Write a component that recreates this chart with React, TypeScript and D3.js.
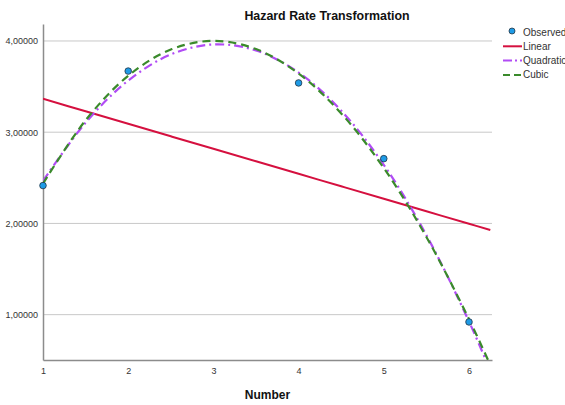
import React, { useEffect, useRef } from "react";
import * as d3 from "d3";

// observed points
const obsX = [1, 2, 4, 5, 6];
const obsY = [2.415, 3.67, 3.54, 2.71, 0.92];

// fitted curves
const fitX = [1, 1.5, 2, 2.5, 3, 3.5, 4, 4.5, 5, 5.5, 6, 6.25];
const linearY = [3.366, 3.229, 3.092, 2.955, 2.818, 2.681, 2.544, 2.407, 2.27, 2.133, 1.996, 1.928];
const quadY = [2.466, 3.104, 3.566, 3.852, 3.962, 3.896, 3.654, 3.236, 2.642, 1.872, 0.925, 0.386];
const cubicY = [2.436, 3.131, 3.618, 3.906, 4.001, 3.911, 3.643, 3.206, 2.607, 1.852, 0.951, 0.447];

const xTicks = [1, 2, 3, 4, 5, 6];
const yTicks = [1, 2, 3, 4];
const legendKeys = ["Observed", "Linear", "Quadratic", "Cubic"];

const App = () => {
    const svgRef = useRef(null);
    const width = 565;
    const height = 405;
    const margin = { top: 24, right: 73, bottom: 45, left: 43 };

    useEffect(() => {
        const svgEl = d3.select(svgRef.current);
        svgEl.selectAll("*").remove();

        const innerW = width - margin.left - margin.right;
        const innerH = height - margin.top - margin.bottom;

        const xScale = d3.scaleLinear().domain([1, 6.27]).range([0, innerW]);
        const yScale = d3.scaleLinear().domain([0.503, 4.186]).range([innerH, 0]);

        const svg = svgEl
            .append("g")
            .attr("transform", `translate(${margin.left},${margin.top})`);

        svg.append("defs")
            .append("clipPath")
            .attr("id", "clip")
            .append("rect")
            .attr("width", innerW)
            .attr("height", innerH);

        // gridlines
        svg.selectAll(".grid")
            .data(yTicks)
            .enter()
            .append("line")
            .attr("x1", 0)
            .attr("x2", innerW)
            .attr("y1", (d) => yScale(d))
            .attr("y2", (d) => yScale(d))
            .attr("stroke", "#c8c8c8")
            .attr("stroke-width", 1);

        // axes
        const xAxis = svg.append("g")
            .attr("transform", `translate(0,${innerH})`)
            .call(d3.axisBottom(xScale).tickValues(xTicks).tickSize(0).tickPadding(8).tickFormat(d3.format("d")));
        const yAxis = svg.append("g")
            .call(d3.axisLeft(yScale).tickValues(yTicks).tickSize(0).tickPadding(5)
                .tickFormat((d) => d3.format(".5f")(d).replace(".", ",")));

        [xAxis, yAxis].forEach((ax) => {
            ax.select(".domain").attr("stroke", "#8c8c8c").attr("stroke-width", 1.5);
            ax.selectAll("text")
                .attr("fill", "#333")
                .style("font-family", "Liberation Sans, Arial, sans-serif")
                .style("font-size", "9px");
        });

        const line = (ys) =>
            d3.line()
                .x((d, i) => xScale(fitX[i]))
                .y((d) => yScale(d))
                .curve(d3.curveCatmullRom)(ys);

        const plot = svg.append("g").attr("clip-path", "url(#clip)");

        plot.append("path")
            .attr("d", line(linearY))
            .attr("fill", "none")
            .attr("stroke", "#d5103f")
            .attr("stroke-width", 2);

        plot.append("path")
            .attr("d", line(quadY))
            .attr("fill", "none")
            .attr("stroke", "#b14cf5")
            .attr("stroke-width", 2.2)
            .attr("stroke-dasharray", "9,4,2,4");

        plot.append("path")
            .attr("d", line(cubicY))
            .attr("fill", "none")
            .attr("stroke", "#3a8a2b")
            .attr("stroke-width", 2.2)
            .attr("stroke-dasharray", "8,5");

        svg.selectAll(".obs")
            .data(obsX)
            .enter()
            .append("circle")
            .attr("cx", (d) => xScale(d))
            .attr("cy", (d, i) => yScale(obsY[i]))
            .attr("r", 3.3)
            .attr("fill", "#1e9be6")
            .attr("stroke", "#234")
            .attr("stroke-width", 0.8);

        // title
        svgEl.append("text")
            .attr("x", 327)
            .attr("y", 19.5)
            .attr("text-anchor", "middle")
            .style("font-family", "Liberation Sans, Arial, sans-serif")
            .style("font-size", "12.4px")
            .style("font-weight", "bold")
            .attr("fill", "#111")
            .text("Hazard Rate Transformation");

        // x label
        svgEl.append("text")
            .attr("x", margin.left + innerW / 2)
            .attr("y", 399)
            .attr("text-anchor", "middle")
            .style("font-family", "Liberation Sans, Arial, sans-serif")
            .style("font-size", "12px")
            .style("font-weight", "bold")
            .attr("fill", "#111")
            .text("Number");

        // legend
        const legend = svgEl.append("g").attr("transform", "translate(503,32)");
        const rowH = 14.3;
        const styles = [
            null,
            { stroke: "#d5103f", dash: null },
            { stroke: "#b14cf5", dash: "9,3,2,3" },
            { stroke: "#3a8a2b", dash: "7,4" },
        ];
        legendKeys.forEach((k, i) => {
            const g = legend.append("g").attr("transform", `translate(0,${i * rowH})`);
            if (i === 0) {
                g.append("circle")
                    .attr("cx", 9)
                    .attr("cy", -1)
                    .attr("r", 3)
                    .attr("fill", "#1e9be6")
                    .attr("stroke", "#234")
                    .attr("stroke-width", 0.8);
            } else {
                g.append("line")
                    .attr("x1", 0)
                    .attr("x2", 19)
                    .attr("y1", 0)
                    .attr("y2", 0)
                    .attr("stroke", styles[i].stroke)
                    .attr("stroke-width", 2)
                    .attr("stroke-dasharray", styles[i].dash);
            }
            g.append("text")
                .attr("x", 20)
                .attr("y", 0)
                .attr("dy", "0.35em")
                .style("font-family", "Liberation Sans, Arial, sans-serif")
                .style("font-size", "10px")
                .attr("fill", "#333")
                .text(k);
        });
    }, []);

    return (
        <svg
            ref={svgRef}
            width={width}
            height={height}
            style={{ position: "absolute", left: 0, top: 0, background: "#fff" }}
        />
    );
};

export default App;
